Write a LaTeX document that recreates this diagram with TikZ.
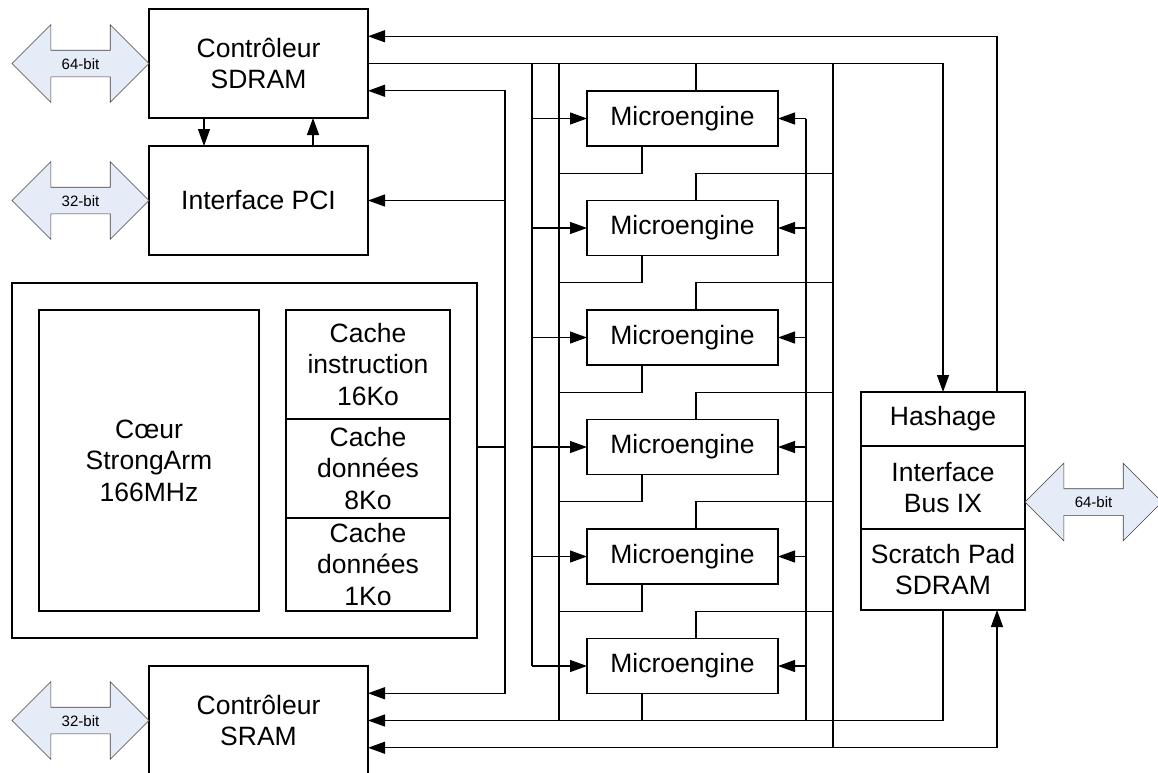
\documentclass[tikz,border=0pt]{standalone}
\usepackage{fontspec}
\setmainfont{Liberation Sans}
\usepackage{tikz}
\definecolor{BusBlue}{RGB}{229,235,247}
\usetikzlibrary{positioning,arrows.meta,shapes.arrows,calc}

\begin{document}
\begin{tikzpicture}[x=1pt, y=-1pt,
    blk/.style={rectangle, draw=black, line width=1.2pt, inner sep=0pt, outer sep=0pt,
                align=center, font=\fontsize{26.5}{31.5}\selectfont},
    ctl/.style={blk, minimum width=219pt, minimum height=109pt},
    me/.style={blk, minimum width=191pt, minimum height=55pt},
    cache/.style={blk, minimum width=164pt},
    ext/.style={double arrow, draw=black!75, line width=0.6pt, fill=BusBlue,
                minimum height=137pt, minimum width=77pt, double arrow head extend=25.5pt,
                inner xsep=0pt, inner ysep=7.5pt, text height=11pt, text depth=0pt,
                font=\fontsize{15}{15}\selectfont},
    a/.style={-{Triangle[length=17pt,width=12pt]}, line width=1.2pt},
    w/.style={line width=1.2pt}
]
    \useasboundingbox (0,0) rectangle (1158,772);

    \node[ctl] (sdram) at (258.5,63.5) {Contrôleur\\SDRAM};
    \node[ctl] (pci) at (258.5,200.5) {Interface PCI};
    \node[ctl] (sram) at (258.5,720.5) {Contrôleur\\SRAM};

    \node[blk, minimum width=465pt, minimum height=355pt] (arm) at (244.5,460.5) {};
    \node[blk, minimum width=220pt, minimum height=301pt] (core) at (149,460.5) {Cœur\\StrongArm\\166MHz};
    \node[cache, minimum height=109pt] (ci) at (368,364.5) {Cache\\instruction\\16Ko};
    \node[cache, minimum height=99pt, below=0pt of ci] (cd) {Cache\\données\\8Ko};
    \node[cache, minimum height=93pt, below=0pt of cd] (cd1) {Cache\\données\\1Ko};

    \foreach \i in {1,...,6}
        \node[me] (me\i) at (682.5,{118.5+109.5*(\i-1)}) {Microengine};

    \node[cache, minimum height=54pt] (hash) at (943,419) {Hashage};
    \node[cache, minimum height=83pt, below=0pt of hash] (ix) {Interface\\Bus IX};
    \node[cache, minimum height=81pt, below=0pt of ix] (pad) {Scratch Pad\\SDRAM};

    \node[ext] (b1) at ($(sdram.west)+(-68.5,0)$) {64-bit};
    \node[ext] (b2) at ($(pci.west)+(-68.5,0)$) {32-bit};
    \node[ext] (b3) at ($(sram.west)+(-68.5,0)$) {32-bit};
    \node[ext] (b4) at ($(ix.east)+(68.5,14.5)$) {64-bit};

    \draw[a] ($(sdram.south)+(-54.5,0)$) -- ($(pci.north)+(-54.5,0)$);
    \draw[a] ($(pci.north)+(54.5,0)$) -- ($(sdram.south)+(54.5,0)$);

    \coordinate (cb) at (505,447);
    \coordinate (lb) at (532,63.5);
    \coordinate (mb) at (559,63.5);
    \coordinate (rb) at (806,118.5);
    \coordinate (ob) at (833,63.5);

    \draw[a] (sdram.east) -| (hash.north);
    \draw[a] ($(hash.north east)+(-28,0)$) |- ($(sdram.east)+(0,-27.25)$);

    \draw[w] (arm.east |- cb) -- (cb);
    \draw[a] (cb) |- ($(sdram.east)+(0,27.25)$);
    \draw[a] (cb) |- ($(sram.east)+(0,-27.25)$);
    \draw[a] (cb |- pci.east) -- (pci.east);

    \draw[w] (lb) -- (lb |- me6.west);
    \draw[w] (mb) -- (mb |- sram.east);
    \draw[w] (rb) -- (rb |- sram.east);
    \draw[w] (ob) -- ($(ob |- sram.east)+(0,27.25)$);
    \foreach \i in {1,...,6} {
        \draw[a] (lb |- me\i.west) -- (me\i.west);
        \draw[a] (rb |- me\i.east) -- (me\i.east);
        \draw[w] ($(me\i.south)+(-40.5,0)$) |- ($(mb |- me\i.south)+(0,27.25)$);
        \draw[w] ($(me\i.north)+(13.5,0)$) |- ($(ob |- me\i.north)+(0,-27.25)$);
    }

    \draw[a] (pad.south) |- (sram.east);
    \draw[a] ($(ob |- sram.east)+(0,27.25)$) -- ($(sram.east)+(0,27.25)$);
    \draw[a] ($(ob |- sram.east)+(0,27.25)$) -| ($(pad.south east)+(-28,0)$);
\end{tikzpicture}
\end{document}
